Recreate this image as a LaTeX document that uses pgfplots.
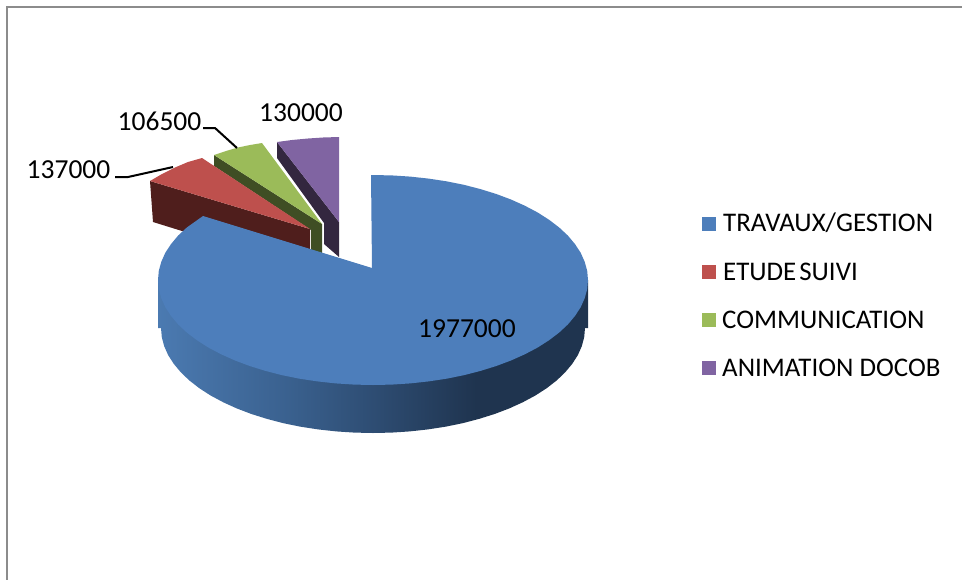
\documentclass[border=0pt]{standalone}
\usepackage{fontspec}
\setmainfont{Carlito}
\usepackage{pgfplots}
\pgfplotsset{compat=1.18}
\definecolor{cblue}{HTML}{4D7EBB}
\definecolor{cred}{HTML}{BE504D}
\definecolor{cgreen}{HTML}{9BBB59}
\definecolor{cpurple}{HTML}{8064A2}
\definecolor{dred}{HTML}{4F1E1C}
\definecolor{dgreen}{HTML}{3F4E24}
\definecolor{dpurple}{HTML}{33273F}
\definecolor{frame}{HTML}{8C8C8C}
\definecolor{sa}{HTML}{4B7AB1}
\definecolor{sb}{HTML}{3A618F}
\definecolor{sc}{HTML}{2E4D73}
\definecolor{sd}{HTML}{1F344F}
\pgfdeclarehorizontalshading{sideblue}{100bp}{color(0bp)=(sa); color(25bp)=(sa); color(40bp)=(sb); color(50bp)=(sc); color(62bp)=(sd); color(100bp)=(sd)}
\newcommand{\lab}{\fontsize{27.6}{29}\selectfont}
\newcommand{\leg}{\fontsize{27}{29}\selectfont}
\begin{document}
\begin{tikzpicture}
\path[use as bounding box] (0,0) rectangle (962bp,580bp);
\begin{axis}[at={(0,0)},anchor=south west,scale only axis,width=962bp,height=580bp,
  xmin=0,xmax=962,ymin=0,ymax=580,y dir=reverse,hide axis,clip=true]
% frame
\addplot[frame,line width=2.8bp] coordinates {(7,580) (7,7) (962,7)};
% purple slice
\addplot[fill=dpurple,draw=none] coordinates {(277,142)(277,158)(324,223)(324,244)(339,257)(339,222)};
\addplot[fill=cpurple,draw=none] coordinates {(339,222)(277,142)(292,140)(308,138.5)(323,137.5)(339,137)};
% green slice
\addplot[fill=dgreen,draw=none] coordinates {(214,155)(214,166)(311,230)(311,250)(322,253)(322,224)};
\addplot[fill=cgreen,draw=none] coordinates {(322,224)(214,155)(226,151)(238,147.5)(250,145)(262,143)};
% red slice
\addplot[fill=dred,draw=none] coordinates {(150,181)(153,222)(182,231)(240,240)(310,250)(310,229)};
\addplot[fill=cred,draw=none] coordinates {(310,229)(150,181)(162,174)(175,167.5)(188,162)(202,158)};
% blue side wall
\addplot[draw=none,shade,shading=sideblue] coordinates {
(158,280)(158,328)(161,328)(161.8,337.2)(164.2,346.2)(168.2,355.2)(173.8,363.9)(180.9,372.4)(189.4,380.5)(199.3,388.2)(210.6,395.5)(223.1,402.2)(236.7,408.4)(251.4,414)(267,418.9)(283.4,423.2)(300.5,426.7)(318.1,429.4)(336.2,431.4)(354.5,432.6)(373,433)
(391.5,432.6)(409.8,431.4)(427.9,429.4)(445.5,426.7)(462.6,423.2)(479,418.9)(494.6,414)(509.3,408.4)(522.9,402.2)(535.4,395.5)(546.7,388.2)(556.6,380.5)(565.1,372.4)(572.2,363.9)(577.8,355.2)(581.8,346.2)(584.2,337.2)(585,328)(588,328)(588,280)};
% blue top face
\addplot[fill=cblue,draw=none] coordinates {
(372,268)(371,175)(391.7,175.4)(410.3,176.6)(428.6,178.6)(446.5,181.3)(463.9,184.8)(480.5,189.1)(496.3,194)(511.2,199.6)(525,205.8)(537.7,212.5)(549.1,219.8)(559.2,227.5)(567.9,235.6)(575,244.1)(580.7,252.8)(584.7,261.8)(587.2,270.8)(588,280)
(587.2,289.2)(584.7,298.2)(580.7,307.2)(575,315.9)(567.9,324.4)(559.2,332.5)(549.1,340.2)(537.7,347.5)(525,354.2)(511.2,360.4)(496.3,366)(480.5,370.9)(463.9,375.2)(446.5,378.7)(428.6,381.4)(410.3,383.4)(391.7,384.6)(373,385)
(354.3,384.6)(335.7,383.4)(317.4,381.4)(299.5,378.7)(282.1,375.2)(265.5,370.9)(249.7,366)(234.8,360.4)(221,354.2)(208.3,347.5)(196.9,340.2)(186.8,332.5)(178.1,324.4)(171,315.9)(165.3,307.2)(161.3,298.2)(158.8,289.2)(158,280)
(158.8,270.8)(161.3,261.8)(165.3,252.8)(171,244.1)(178.1,235.6)(186.8,227.5)(203,216)};
% leader lines
\addplot[black,line width=2bp] coordinates {(115,177)(128,177)(173,167)};
\addplot[black,line width=2bp] coordinates {(203,128)(215,128)(237,148)};
% legend keys
\addplot[fill=cblue,draw=none] coordinates {(702,217)(716,217)(716,231)(702,231)};
\addplot[fill=cred,draw=none] coordinates {(702,265)(716,265)(716,279)(702,279)};
\addplot[fill=cgreen,draw=none] coordinates {(702,313)(716,313)(716,327)(702,327)};
\addplot[fill=cpurple,draw=none] coordinates {(702,361)(716,361)(716,375)(702,375)};
% texts
\node[anchor=center,inner sep=0pt] at (axis cs:68.5,170) {\lab 137000};
\node[anchor=center,inner sep=0pt] at (axis cs:159.5,121) {\lab 106500};
\node[anchor=center,inner sep=0pt] at (axis cs:301,113) {\lab 130000};
\node[anchor=center,inner sep=0pt] at (axis cs:467,329) {\lab 1977000};
\node[anchor=west,inner sep=0pt] at (axis cs:723,223) {\leg TRAVAUX/GESTION};
\node[anchor=west,inner sep=0pt] at (axis cs:723,272) {\leg ETUDE\kern3bp SUIVI};
\node[anchor=west,inner sep=0pt] at (axis cs:722,320) {\leg COMMUNICATION};
\node[anchor=west,inner sep=0pt] at (axis cs:722,368) {\leg ANIMATION DOCOB};
\end{axis}
\end{tikzpicture}
\end{document}
